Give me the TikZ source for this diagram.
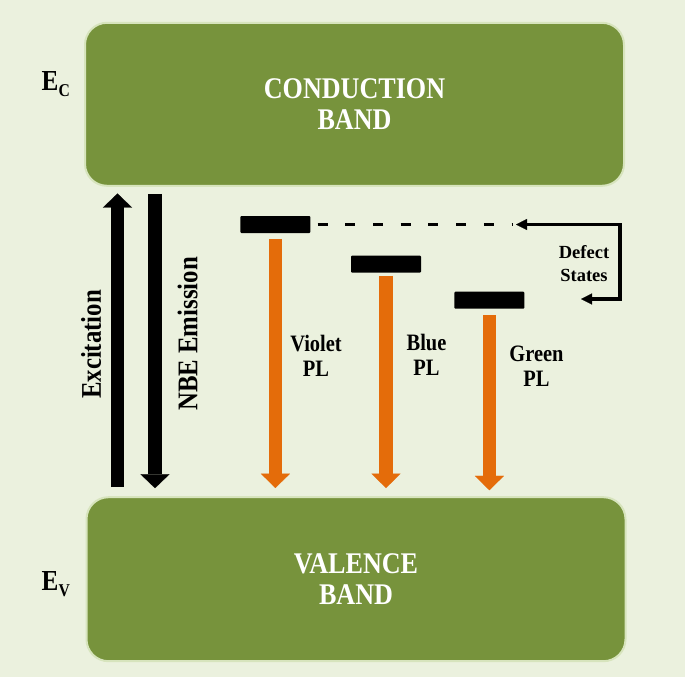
\documentclass[tikz,border=0pt]{standalone}
\usepackage{fontspec}
\setmainfont{Liberation Serif}
\newfontfamily\narrowfont[FakeStretch=0.87]{Liberation Serif}
\usetikzlibrary{arrows.meta, positioning}
\definecolor{paper}{RGB}{235,241,222}
\definecolor{band}{RGB}{119,147,60}
\definecolor{bandedge}{RGB}{215,228,189}
\definecolor{plorange}{RGB}{228,108,10}

\begin{document}
\begin{tikzpicture}[x=1pt, y=-1pt,
    bandbox/.style={rectangle, rounded corners=22pt, fill=band, draw=bandedge, line width=2pt,
        minimum width=539pt, minimum height=163pt, inner sep=0pt, text=white, align=center,
        font=\narrowfont\bfseries\fontsize{30}{31.5}\selectfont},
    trap/.style={rectangle, fill=black, minimum width=70pt, minimum height=17pt, inner sep=0pt, rounded corners=1pt},
    bigarrow/.style={line width=13.6pt, -{Triangle[width=29pt, length=14pt, line width=0.1pt]}},
    plarrow/.style={plorange, line width=13.3pt, -{Triangle[width=29pt, length=14.3pt, line width=0.1pt]}},
    pltext/.style={align=center, inner sep=0pt, font=\narrowfont\bfseries\fontsize{23.5}{25}\selectfont},
    sidetext/.style={rotate=90, inner sep=0pt, font=\narrowfont\bfseries\fontsize{28.5}{30}\selectfont},
    energy/.style={anchor=base west, inner sep=0pt, font=\narrowfont\bfseries\fontsize{29}{29}\selectfont},
    defarrow/.style={line width=3.2pt, {Triangle[width=11pt, length=11pt, line width=0.1pt]}-{Triangle[width=11pt, length=11pt, line width=0.1pt]}}]
    % Background
    \useasboundingbox (0,0) rectangle (685,677);
    \fill[paper] (0,0) rectangle (685,677);
    % Bands
    \node[bandbox] (cb) at (354.5,104.3) {CONDUCTION\\BAND};
    \node[bandbox, minimum height=164pt] (vb) at (356,579.2) {VALENCE\\BAND};
    \node[energy] (ec) at (41.5,90) {E\raisebox{-6pt}{\fontsize{18}{18}\selectfont C}};
    \node[energy] (ev) at (41.5,590) {E\raisebox{-6pt}{\fontsize{18}{18}\selectfont V}};
    % Defect levels
    \node[trap] (violet) at (275.4,224.5) {};
    \node[trap] (blue) at (386,264.2) {};
    \node[trap] (green) at (489.4,300.2) {};
    % Excitation and NBE emission
    \coordinate (excx) at (117.5,0);
    \coordinate (nbex) at (155,0);
    \draw[bigarrow] ([yshift=9pt]vb.north -| excx) -- ([yshift=-6.7pt]cb.south -| excx);
    \draw[bigarrow] ([yshift=-7pt]cb.south -| nbex) -- ([yshift=8pt]vb.north -| nbex);
    \node[sidetext] (exc) at (91.2,344.5) {Excitation};
    \node[sidetext] (nbe) at (187.5,334) {NBE Emission};
    % PL transitions
    \draw[plarrow] ([yshift=-5.7pt]violet.south) -- ([yshift=8.2pt]vb.north -| violet);
    \draw[plarrow] ([yshift=-3pt]blue.south) -- ([yshift=8.2pt]vb.north -| blue);
    \draw[plarrow] ([yshift=-6.3pt]green.south) -- ([yshift=6pt]vb.north -| green);
    \node[pltext] (violetpl) at (316,355.5) {Violet\\PL};
    \node[pltext] (bluepl) at (426.5,355) {Blue\\PL};
    \node[pltext] (greenpl) at (536.5,366) {Green\\PL};
    % Defect states bracket
    \coordinate (dtip) at (516,224.5);
    \coordinate (dbot) at (581,299);
    \draw[line width=3.3pt, dash pattern=on 10pt off 17.7pt] ([xshift=7pt]violet.east) -- ([xshift=-4pt]dtip);
    \draw[defarrow] (dtip) -- ++(104,0) |- (dbot);
    \node[align=center, inner sep=0pt, font=\bfseries\fontsize{18.5}{23}\selectfont] (defect) at (584,264) {Defect\\States};
\end{tikzpicture}
\end{document}
